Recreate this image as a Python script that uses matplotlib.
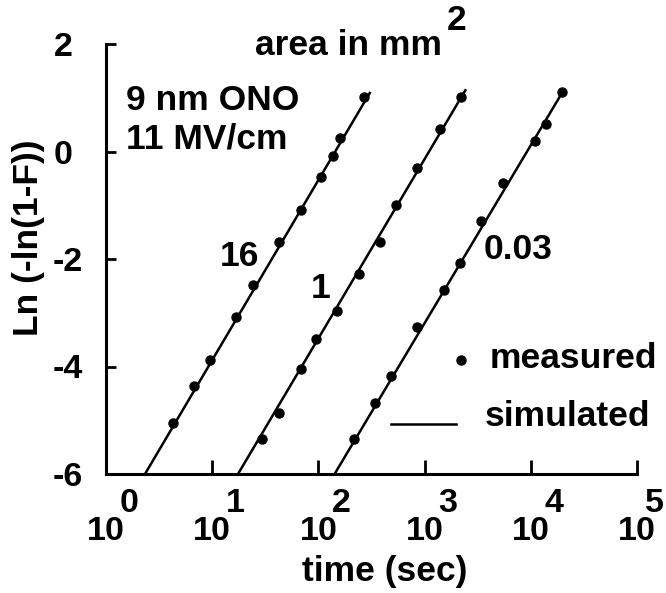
import numpy as np
import matplotlib
matplotlib.use('Agg')
import matplotlib.pyplot as plt

# measured points (time in sec, Ln(-ln(1-F)))
t_16 = [4.24, 6.78, 9.46, 16.7, 24.2, 42.7, 67.9, 106, 136, 161, 267]
y_16 = [-5.06, -4.36, -3.87, -3.07, -2.48, -1.68, -1.09, -0.48, -0.08, 0.26, 1.01]

t_1 = [29.5, 42.4, 67.9, 94.6, 150, 242, 384, 535, 849, 1387, 2198]
y_1 = [-5.35, -4.86, -4.05, -3.48, -2.97, -2.28, -1.69, -1.00, -0.30, 0.41, 1.01]

t_003 = [215, 340, 480, 855, 1524, 2173, 3373, 5508, 10864, 13772, 19498]
y_003 = [-5.35, -4.67, -4.18, -3.27, -2.58, -2.07, -1.29, -0.58, 0.20, 0.51, 1.10]

# simulated lines (end points)
sim_t_16 = [2.33, 309]
sim_y_16 = [-6.0, 1.11]
sim_t_1 = [17.5, 2455]
sim_y_1 = [-6.0, 1.16]
sim_t_003 = [142, 19953]
sim_y_003 = [-6.0, 1.11]

areas = ['16', '1', '0.03']
decades = [0, 1, 2, 3, 4, 5]
yticks = [-6, -4, -2, 0, 2]

plt.rcParams['font.family'] = 'Liberation Sans'
plt.rcParams['font.weight'] = 'bold'
fs = 25.5   # annotation text
fst = 24.5  # tick labels

fig = plt.figure(figsize=(6.66, 5.93), dpi=100)
ax = fig.add_axes([106/666, 1-474/593, (637-106)/666, (474-44)/593])

ax.set_xscale('log')
ax.set_xlim(1, 1e5)
ax.set_ylim(-6, 2)

for tt, yy in [(sim_t_16, sim_y_16), (sim_t_1, sim_y_1), (sim_t_003, sim_y_003)]:
    ax.plot(tt, yy, color='black', lw=1.8, solid_capstyle='butt', clip_on=False)
for tt, yy in [(t_16, y_16), (t_1, y_1), (t_003, y_003)]:
    ax.plot(tt, yy, 'o', color='black', ms=6.5, ls='none')

for s in ['top', 'right']:
    ax.spines[s].set_visible(False)
for s in ['left', 'bottom']:
    ax.spines[s].set_linewidth(2.2)

ax.minorticks_off()
ax.set_xticks([10.0**k for k in decades])
ax.set_xticklabels([])
ax.tick_params(axis='x', direction='in', length=10, width=2, which='major')
ax.set_yticks(yticks)
ax.set_yticklabels([('%d' % v) if v < 0 else ('%d ' % v) for v in yticks],
                   fontsize=fst, fontweight='bold')
ax.tick_params(axis='y', direction='in', length=7, width=2, pad=17)

# x tick labels drawn as 10 with the exponent above
for k in decades:
    ax.annotate('10', xy=(10.0**k, 0), xycoords=('data', 'axes fraction'),
                xytext=(0, -41.5), textcoords='offset points',
                ha='center', va='center', fontsize=fst, fontweight='bold',
                annotation_clip=False)
    dx = 16.5 if k < decades[-1] else 12.5  # last one squeezed at the edge
    ax.annotate(str(k), xy=(10.0**k, 0), xycoords=('data', 'axes fraction'),
                xytext=(dx, -21), textcoords='offset points',
                ha='center', va='center', fontsize=fst, fontweight='bold',
                annotation_clip=False)

fig.text(385/666, 1-572/593, 'time (sec)', ha='center', va='center',
         fontsize=fs, fontweight='bold')
fig.text(29/666, 1-238/593, 'Ln (-ln(1-F))', ha='center', va='center',
         rotation=90, fontsize=fs, fontweight='bold')

# annotations
fig.text(126/666, 1-100/593, '9 nm ONO', ha='left', va='center', fontsize=fs)
fig.text(126/666, 1-139/593, '11 MV/cm', ha='left', va='center', fontsize=fs)
fig.text(255/666, 1-55/593, 'area in mm', ha='left', va='baseline', fontsize=fs)
fig.text(457/666, 1-20/593, '2', ha='center', va='center', fontsize=fs)

fig.text(239/666, 1-256/593, areas[0], ha='center', va='center', fontsize=fs)
fig.text(321/666, 1-289/593, areas[1], ha='center', va='center', fontsize=fs)
fig.text(518/666, 1-250/593, areas[2], ha='center', va='center', fontsize=fs)

# legend
fig.text(490/666, 1-358/593, 'measured', ha='left', va='center', fontsize=fs)
fig.text(485/666, 1-417/593, 'simulated', ha='left', va='center', fontsize=fs)
fig.lines.append(plt.Line2D([461/666], [1-360/593], marker='o', ms=6.5,
                            color='black', transform=fig.transFigure))
fig.lines.append(plt.Line2D([391/666, 456/666], [1-424/593, 1-424/593],
                            lw=1.8, color='black', transform=fig.transFigure))

fig.savefig('out.png', dpi=100)
